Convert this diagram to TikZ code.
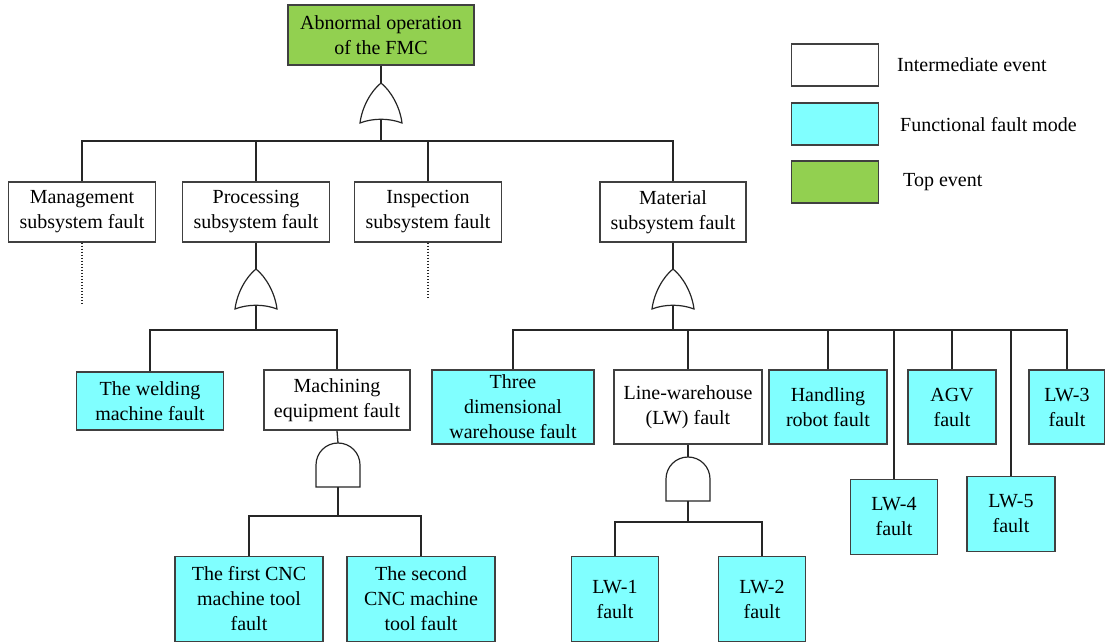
\documentclass[tikz,border=0pt]{standalone}
\usepackage{fontspec}
\setmainfont{Liberation Serif}
\definecolor{topgreen}{HTML}{92D050}
\definecolor{faultcyan}{HTML}{80FFFF}
\definecolor{boxline}{HTML}{404040}
\begin{document}
\begin{tikzpicture}[x=1pt,y=-1pt,
  box/.style={draw=boxline, line width=1.5pt, align=center, inner sep=0pt,
    font=\fontsize{20}{25}\selectfont},
  inter/.style={box, fill=white},
  func/.style={box, fill=faultcyan},
  topev/.style={box, fill=topgreen},
  conn/.style={draw=black!85, line width=1.3pt},
  dotconn/.style={draw=black!85, line width=1.3pt, dash pattern=on 1.5pt off 1.5pt},
  gate/.style={draw=black!85, line width=1.2pt, fill=white},
  legtext/.style={anchor=west, inner sep=0pt, font=\fontsize{20}{25}\selectfont},
  orgate/.pic={
    \draw[gate] (0,0) .. controls (-10,8) and (-19,24) .. (-21,40)
      .. controls (-8,35) and (8,35) .. (21,40)
      .. controls (19,24) and (10,8) .. (0,0) -- cycle;
    \coordinate (-in) at (0,0);
    \coordinate (-out) at (0,37);
  },
  andgate/.pic={
    \draw[gate] (-22,44) -- (-22,22) .. controls (-22,9.8) and (-12.2,0) .. (0,0)
      .. controls (12.2,0) and (22,9.8) .. (22,22) -- (22,44) -- cycle;
    \coordinate (-in) at (0,0);
    \coordinate (-out) at (0,44);
  }
]
\useasboundingbox (0,0) rectangle (1105,644);

% top event
\node[topev, minimum width=186pt, minimum height=60pt] (top) at (381,35) {Abnormal operation\\of the FMC};
\pic (g0) at (381,83) {orgate};
\coordinate (b0) at (381,141);

% subsystems
\node[inter, minimum width=147pt, minimum height=60pt] (mgmt) at (82,212) {Management\\subsystem fault};
\node[inter, minimum width=147pt, minimum height=60pt] (proc) at (256,212) {Processing\\subsystem fault};
\node[inter, minimum width=147pt, minimum height=60pt] (insp) at (428,212) {Inspection\\subsystem fault};
\node[inter, minimum width=146pt, minimum height=60pt] (mat) at (673,212) {Material\\subsystem fault};

\draw[conn] (top.south) -- (g0-in);
\draw[conn] (g0-out) -- (b0);
\draw[conn] (mgmt.north) -- (mgmt.north |- b0) -- (mat.north |- b0) -- (mat.north);
\draw[conn] (proc.north) -- (proc.north |- b0);
\draw[conn] (insp.north) -- (insp.north |- b0);

\coordinate (mend) at (82,305);
\coordinate (iend) at (428,299);
\draw[dotconn] (mgmt.south) -- (mend);
\draw[dotconn] (insp.south) -- (iend);

% processing branch
\pic (g1) at (256,269) {orgate};
\coordinate (b1) at (256,330);
\node[func, minimum width=147pt, minimum height=58pt] (weld) at (150,401) {The welding\\machine fault};
\node[inter, minimum width=146pt, minimum height=60pt] (mach) at (337,400) {Machining\\equipment fault};
\draw[conn] (proc.south) -- (g1-in);
\draw[conn] (g1-out) -- (b1);
\draw[conn] (weld.north) |- (b1) -| (mach.north);

\pic (g2) at (338,443) {andgate};
\coordinate (b2) at (338,516);
\node[func, minimum width=148pt, minimum height=85pt] (cnc1) at (249,599) {The first CNC\\machine tool\\fault};
\node[func, minimum width=148pt, minimum height=85pt] (cnc2) at (421,599) {The second\\CNC machine\\tool fault};
\draw[conn] (mach.south) -- (g2-in);
\draw[conn] (g2-out) -- (b2);
\draw[conn] (cnc1.north) |- (b2) -| (cnc2.north);

% material branch
\pic (g3) at (673,269) {orgate};
\coordinate (b3) at (673,330);
\node[func, minimum width=162pt, minimum height=74pt] (three) at (513,407) {Three\\dimensional\\warehouse fault};
\node[inter, minimum width=148pt, minimum height=74pt] (lw) at (688,407) {Line-warehouse\\(LW) fault};
\node[func, minimum width=118pt, minimum height=74pt] (hand) at (828,407) {Handling\\robot fault};
\node[func, minimum width=88pt, minimum height=74pt] (agv) at (952,407) {AGV\\fault};
\node[func, minimum width=76pt, minimum height=74pt] (lw3) at (1067,407) {LW-3\\fault};
\node[func, minimum width=87pt, minimum height=75pt] (lw4) at (894,517) {LW-4\\fault};
\node[func, minimum width=88pt, minimum height=75pt] (lw5) at (1011,514) {LW-5\\fault};
\draw[conn] (mat.south) -- (g3-in);
\draw[conn] (g3-out) -- (b3);
\draw[conn] (three.north) |- (b3) -| (lw3.north);
\draw[conn] (lw.north) -- (lw.north |- b3);
\draw[conn] (hand.north) -- (hand.north |- b3);
\draw[conn] (agv.north) -- (agv.north |- b3);
\draw[conn] (lw4.north) -- (lw4.north |- b3);
\draw[conn] (lw5.north) -- (lw5.north |- b3);

\pic (g4) at (688,457) {andgate};
\coordinate (b4) at (688,522);
\node[func, minimum width=87pt, minimum height=85pt] (lw1) at (615,599) {LW-1\\fault};
\node[func, minimum width=87pt, minimum height=85pt] (lw2) at (762,599) {LW-2\\fault};
\draw[conn] (lw.south) -- (g4-in);
\draw[conn] (g4-out) -- (b4);
\draw[conn] (lw1.north) |- (b4) -| (lw2.north);

% legend
\node[inter, minimum width=87pt, minimum height=42pt] (leg1) at (835,65) {};
\node[func, minimum width=87pt, minimum height=42pt] (leg2) at (835,124) {};
\node[topev, minimum width=87pt, minimum height=42pt] (leg3) at (835,182) {};
\node[legtext] (legt1) at (897,65) {Intermediate event};
\node[legtext] (legt2) at (900,125) {Functional fault mode};
\node[legtext] (legt3) at (903,182) {Top event};
\end{tikzpicture}
\end{document}
